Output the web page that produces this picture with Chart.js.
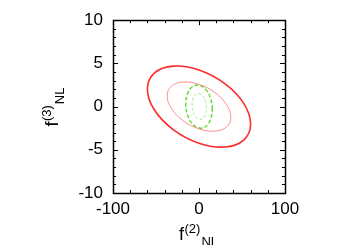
<!DOCTYPE html>
<html>
<head>
<meta charset="utf-8">
<script src="https://cdn.jsdelivr.net/npm/chart.js@4/dist/chart.umd.min.js"></script>
<style>
  html, body { margin: 0; padding: 0; background: #fff; }
  #c { display: block; }
</style>
</head>
<body>
<canvas id="c" width="350" height="245"></canvas>
<script>
// tick labels
const xTickValues = [-100, 0, 100];
const yTickValues = [-10, -5, 0, 5, 10];

// contours (f2NL, f3NL); each one is a closed loop
const redOuterX = [60, 52, 30, 0, -30, -52, -60, -52, -30, 0, 30, 52];
const redOuterY = [-2.02, 0.37, 2.66, 4.24, 4.68, 3.87, 2.02, -0.37, -2.66, -4.24, -4.68, -3.87];

const redInnerX = [37, 32, 18.5, 0, -18.5, -32, -37, -32, -18.5, 0, 18.5, 32];
const redInnerY = [-1.23, 0.22, 1.62, 2.57, 2.84, 2.36, 1.23, -0.22, -1.62, -2.57, -2.84, -2.36];

const greenOuterX = [15.4, 13.3, 7.7, 0, -7.7, -13.3, -15.4, -13.3, -7.7, 0, 7.7, 13.3];
const greenOuterY = [-0.3, 0.98, 2.0, 2.48, 2.3, 1.5, 0.3, -0.98, -2.0, -2.48, -2.3, -1.5];

const greenInnerX = [8.5, 7.4, 4.35, 0.2, -3.95, -7.0, -8.1, -7.0, -3.95, 0.2, 4.35, 7.4];
const greenInnerY = [-0.18, 0.6, 1.22, 1.51, 1.4, 0.92, 0.18, -0.6, -1.22, -1.51, -1.4, -0.92];

const FONT = '"Liberation Sans", Arial, Helvetica, sans-serif';

const toPoints = (xs, ys) => xs.map((x, i) => ({ x: x, y: ys[i] }));

const contour = (xs, ys, color, width, dash) => ({
  data: toPoints(xs, ys),
  showLine: true,
  borderColor: color,
  borderWidth: width,
  borderDash: dash,
  pointRadius: 0,
  tension: 0.4,
  fill: false,
});

// close every line into a smooth loop (same trick the radar controller uses)
const closeLoops = {
  id: 'closeLoops',
  afterDatasetsUpdate(chart) {
    chart.data.datasets.forEach((ds, i) => {
      const line = chart.getDatasetMeta(i).dataset;
      if (!line) return;
      line._loop = true;
      line._fullLoop = true;
      line._pointsUpdated = false;
      line._segments = undefined;
      line._path = undefined;
    });
  }
};

// gnuplot style frame with inward ticks on all four sides
const frameTicks = {
  id: 'frameTicks',
  afterDatasetsDraw(chart) {
    const { ctx, chartArea: a, scales } = chart;
    const xs = scales.x, ys = scales.y;
    ctx.save();
    ctx.strokeStyle = '#000';
    ctx.lineWidth = 1;
    ctx.beginPath();
    for (let v = -100; v <= 100; v += 20) {
      const px = Math.round(xs.getPixelForValue(v)) + 0.5;
      const len = v % 100 === 0 ? 5 : 3;
      ctx.moveTo(px, a.bottom); ctx.lineTo(px, a.bottom - len);
      ctx.moveTo(px, a.top); ctx.lineTo(px, a.top + len);
    }
    for (let v = -10; v <= 10; v += 1) {
      const py = Math.round(ys.getPixelForValue(v)) + 0.5;
      const len = v % 5 === 0 ? 5 : 3;
      ctx.moveTo(a.left, py); ctx.lineTo(a.left + len, py);
      ctx.moveTo(a.right, py); ctx.lineTo(a.right - len, py);
    }
    ctx.stroke();
    ctx.lineWidth = 1.5;
    ctx.strokeRect(Math.round(a.left) + 0.5, Math.round(a.top) + 0.5,
      Math.round(a.right - a.left), Math.round(a.bottom - a.top));
    ctx.restore();
  }
};

// axis titles with super/subscripts
const axisTitles = {
  id: 'axisTitles',
  afterDraw(chart) {
    const ctx = chart.ctx;
    const a = chart.chartArea;
    const drawTitle = (main, sup, sub) => {
      ctx.font = '18px ' + FONT;
      ctx.fillText(main, 0, 0);
      let w = ctx.measureText(main).width + 0.5;
      ctx.font = '13px ' + FONT;
      ctx.fillText(sup, w, -7);
      w += ctx.measureText(sup).width + 1;
      ctx.font = '13px ' + FONT;
      ctx.fillText(sub, w, 6);
    };
    ctx.save();
    ctx.fillStyle = '#000';
    ctx.textBaseline = 'alphabetic';
    ctx.textAlign = 'left';
    ctx.save();
    ctx.translate((a.left + a.right) / 2 - 20, 240);
    drawTitle('f', '(2)', 'NL');
    ctx.restore();
    ctx.save();
    ctx.translate(58, (a.top + a.bottom) / 2 + 20);
    ctx.rotate(-Math.PI / 2);
    drawTitle('f', '(3)', 'NL');
    ctx.restore();
    ctx.restore();
  }
};

new Chart(document.getElementById('c'), {
  type: 'scatter',
  data: {
    datasets: [
      contour(redOuterX, redOuterY, '#ff2a2a', 1.6, []),
      contour(redInnerX, redInnerY, '#ff8c8c', 1, []),
      contour(greenOuterX, greenOuterY, '#5fdc2a', 1.4, [4, 2]),
      contour(greenInnerX, greenInnerY, '#a4ee8a', 1, [3, 2]),
    ],
  },
  options: {
    responsive: false,
    animation: false,
    layout: { padding: { top: 20, right: 65, left: 0, bottom: 0 } },
    plugins: {
      legend: { display: false },
      tooltip: { enabled: false },
    },
    scales: {
      x: {
        type: 'linear',
        min: -100,
        max: 100,
        afterBuildTicks: (scale) => { scale.ticks = xTickValues.map((v) => ({ value: v })); },
        afterFit: (scale) => { scale.height = 52; },
        ticks: { color: '#000', font: { family: FONT, size: 17 }, padding: 6, maxRotation: 0 },
        grid: { display: false, drawTicks: false },
        border: { display: false },
      },
      y: {
        type: 'linear',
        min: -10,
        max: 10,
        afterBuildTicks: (scale) => { scale.ticks = yTickValues.map((v) => ({ value: v })); },
        afterFit: (scale) => { scale.width = 113; },
        ticks: { color: '#000', font: { family: FONT, size: 17 }, padding: 10 },
        grid: { display: false, drawTicks: false },
        border: { display: false },
      },
    },
  },
  plugins: [closeLoops, frameTicks, axisTitles],
});
</script>
</body>
</html>
